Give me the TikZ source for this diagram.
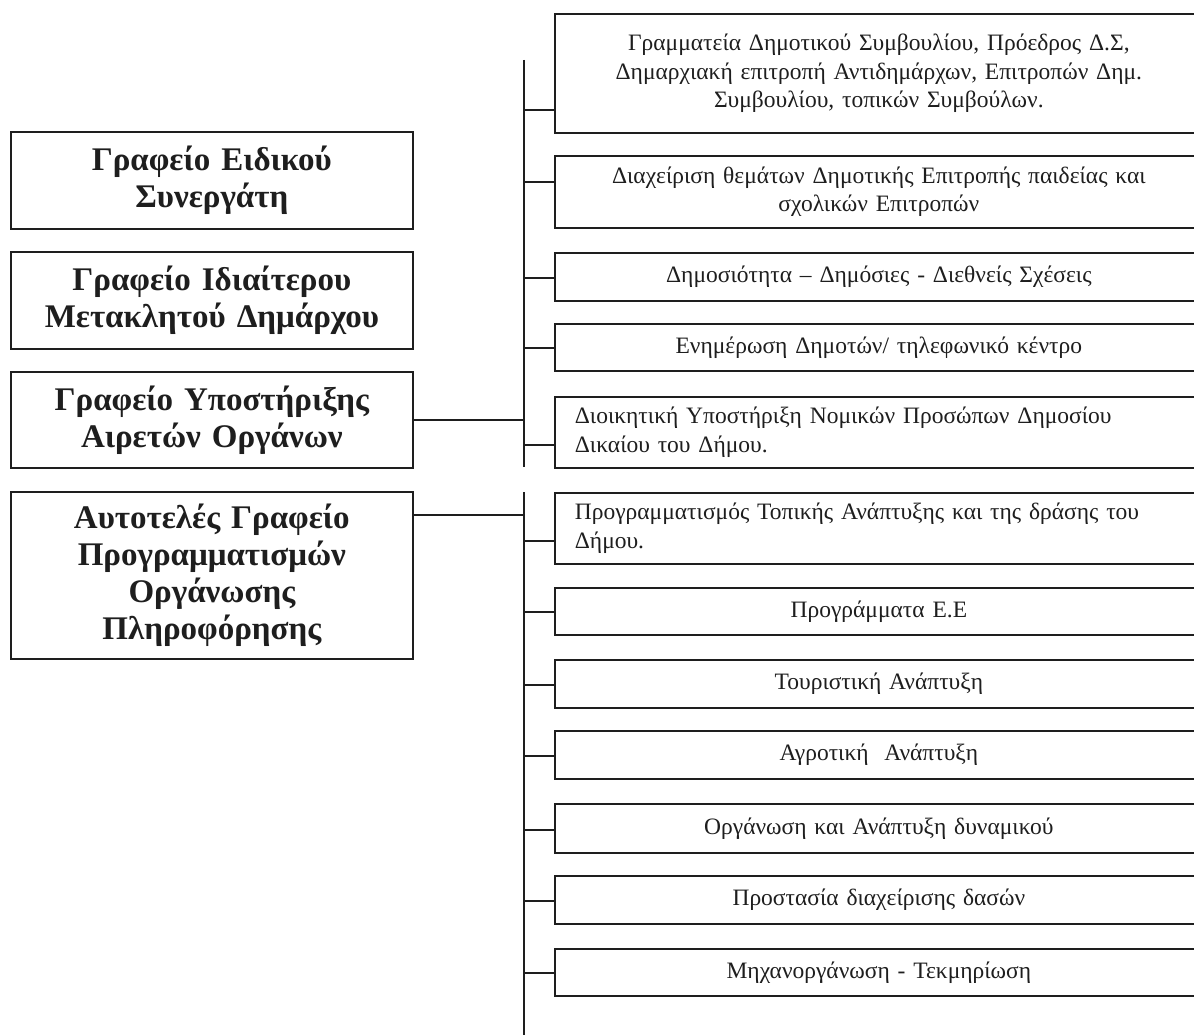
\documentclass[tikz,border=0pt]{standalone}
\usepackage{fontspec}
\setmainfont{Liberation Serif}
\definecolor{ink}{HTML}{1E1E1E}
\begin{document}
\begin{tikzpicture}[x=1pt,y=-1pt,
  box/.style={draw=ink, line width=1.7pt, inner ysep=0pt, text=ink},
  lbox/.style={box, anchor=north west, text width=390pt, inner xsep=6pt, align=center, font=\fontsize{33}{37}\selectfont\bfseries},
  rbox/.style={box, anchor=north west, text width=608pt, inner xsep=20pt, align=center, font=\fontsize{23.5}{28.5}\selectfont},
  wire/.style={draw=ink, line width=1.7pt}]
\useasboundingbox[fill=white] (0,0) rectangle (1194,1035);

% left column
\node[lbox, minimum height=97pt] (L1) at (10,131) {Γραφείο Ειδικού\\Συνεργάτη};
\node[lbox, minimum height=97pt] (L2) at (10,251) {Γραφείο Ιδιαίτερου\\Μετακλητού Δημάρχου};
\node[lbox, minimum height=96pt] (L3) at (10,371) {Γραφείο Υποστήριξης\\Αιρετών Οργάνων};
\node[lbox, minimum height=167pt] (L4) at (10,491) {Αυτοτελές Γραφείο\\Προγραμματισμών\\Οργάνωσης\\Πληροφόρησης};

% buses
\coordinate (b1top) at (524,60);
\coordinate (b1bot) at (524,467);
\coordinate (b2top) at (524,492);
\coordinate (b2bot) at (524,1035);
\draw[wire] (b1top) -- (b1bot);
\draw[wire] (b2top) -- (b2bot);

% right column
\node[rbox, minimum height=119pt] (R1) at (554,13) {Γραμματεία Δημοτικού Συμβουλίου, Πρόεδρος Δ.Σ,\\Δημαρχιακή επιτροπή Αντιδημάρχων, Επιτροπών Δημ.\\Συμβουλίου, τοπικών Συμβούλων.};
\node[rbox, minimum height=72pt] (R2) at (554,155) {Διαχείριση θεμάτων Δημοτικής Επιτροπής παιδείας και\\σχολικών Επιτροπών};
\node[rbox, minimum height=48pt] (R3) at (554,252) {Δημοσιότητα – Δημόσιες - Διεθνείς Σχέσεις};
\node[rbox, minimum height=47pt] (R4) at (554,323) {Ενημέρωση Δημοτών/ τηλεφωνικό κέντρο};
\node[rbox, minimum height=71pt, align=left] (R5) at (554,396) {Διοικητική Υποστήριξη Νομικών Προσώπων Δημοσίου\\Δικαίου του Δήμου.};
\node[rbox, minimum height=71pt, align=left] (R6) at (554,492) {Προγραμματισμός Τοπικής Ανάπτυξης και της δράσης του\\Δήμου.};
\node[rbox, minimum height=47pt] (R7) at (554,587) {Προγράμματα Ε.Ε};
\node[rbox, minimum height=48pt] (R8) at (554,659) {Τουριστική Ανάπτυξη};
\node[rbox, minimum height=48pt] (R9) at (554,730) {Αγροτική\ \ Ανάπτυξη};
\node[rbox, minimum height=49pt] (R10) at (554,803) {Οργάνωση και Ανάπτυξη δυναμικού};
\node[rbox, minimum height=48pt] (R11) at (554,875) {Προστασία διαχείρισης δασών};
\node[rbox, minimum height=47pt] (R12) at (554,948) {Μηχανοργάνωση - Τεκμηρίωση};

% left connectors
\draw[wire] (L3.east) -- (L3.east -| b1top);
\path ([yshift=-24pt]L4.north east) coordinate (cL4);
\draw[wire] (cL4) -- (cL4 -| b2top);

% right connectors
\foreach \r/\bus in {R1/b1top,R3/b1top,R4/b1top,R5/b1top,R6/b2top,R7/b2top,R8/b2top,R9/b2top,R10/b2top,R11/b2top,R12/b2top}{
  \path ([yshift=24pt]\r.south west) coordinate (c\r);
  \draw[wire] (c\r) -- (c\r -| \bus);
}
\path ([yshift=47pt]R2.south west) coordinate (cR2);
\draw[wire] (cR2) -- (cR2 -| b1top);
\end{tikzpicture}
\end{document}
